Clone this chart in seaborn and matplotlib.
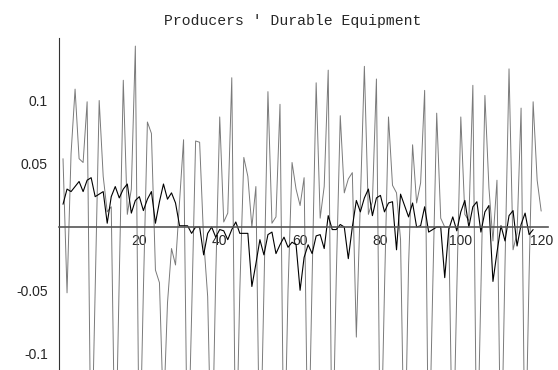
import numpy as np
import pandas as pd
import matplotlib
matplotlib.use("Agg")
import matplotlib.pyplot as plt
from matplotlib.ticker import FixedLocator, MultipleLocator, FixedFormatter
import seaborn as sns

# Monthly growth rates: raw series (gray) and adjusted series (black)
gray_values = [
    0.054, -0.052, 0.058, 0.109, 0.054, 0.051, 0.099, -0.20, -0.05, 0.100,
    0.040, 0.012, 0.016, -0.20, -0.04, 0.116, 0.010, 0.030, 0.143, -0.20,
    -0.05, 0.083, 0.074, -0.034, -0.044, -0.15, -0.060, -0.017, -0.030, 0.020,
    0.069, -0.20, -0.07, 0.068, 0.067, -0.010, -0.055, -0.20, -0.04, 0.087,
    0.004, 0.011, 0.118, -0.20, -0.05, 0.055, 0.040, 0.000, 0.032, -0.20,
    -0.05, 0.107, 0.003, 0.008, 0.097, -0.20, -0.05, 0.051, 0.030, 0.017,
    0.039, -0.20, -0.04, 0.114, 0.007, 0.032, 0.124, -0.20, -0.04, 0.088,
    0.027, 0.038, 0.043, -0.087, 0.020, 0.127, 0.010, 0.020, 0.117, -0.20,
    -0.05, 0.087, 0.033, 0.027, -0.010, -0.20, -0.03, 0.065, 0.019, 0.035,
    0.108, -0.20, -0.05, 0.090, 0.007, 0.000, 0.000, -0.20, -0.05, 0.087,
    0.010, 0.005, 0.112, -0.20, -0.05, 0.104, 0.031, -0.011, 0.037, -0.20,
    -0.03, 0.125, -0.018, -0.005, 0.094, -0.20, -0.037, 0.099, 0.037, 0.0126,
]

black_values = [
    0.018, 0.030, 0.028, 0.032, 0.036, 0.028, 0.037, 0.039, 0.024, 0.026,
    0.028, 0.003, 0.024, 0.032, 0.023, 0.030, 0.034, 0.011, 0.021, 0.024,
    0.013, 0.022, 0.028, 0.003, 0.020, 0.034, 0.022, 0.027, 0.019, 0.001,
    0.001, 0.001, -0.005, 0.000, 0.000, -0.022, -0.005, 0.000, -0.008, -0.002,
    -0.003, -0.010, -0.002, 0.004, -0.005, -0.005, -0.005, -0.047, -0.029, -0.010,
    -0.022, -0.006, -0.004, -0.021, -0.014, -0.008, -0.016, -0.012, -0.014, -0.050,
    -0.024, -0.014, -0.021, -0.007, -0.006, -0.017, 0.009, -0.002, -0.002, 0.002,
    0.000, -0.025, 0.000, 0.021, 0.012, 0.023, 0.030, 0.009, 0.023, 0.025,
    0.012, 0.019, 0.020, -0.018, 0.026, 0.017, 0.008, 0.019, 0.000, 0.001,
    0.016, -0.004, -0.002, 0.000, 0.000, -0.040, -0.002, 0.008, -0.003, 0.012,
    0.021, 0.000, 0.016, 0.020, -0.004, 0.012, 0.017, -0.043, -0.020, 0.001,
    -0.011, 0.009, 0.013, -0.015, 0.002, 0.011, -0.006, -0.002,
]

x_ticks = [20, 40, 60, 80, 100, 120]
y_ticks = [-0.1, -0.05, 0.05, 0.1]
y_tick_labels = ["-0.1", "-0.05", "0.05", "0.1"]

sns.set_style("white")
plt.rcParams["font.family"] = ["Liberation Sans", "DejaVu Sans"]
plt.rcParams["axes.unicode_minus"] = False

fig = plt.figure(figsize=(5.58, 3.70), dpi=100)
ax = fig.add_axes([59 / 558, 0.0, (548 - 59) / 558, (370 - 38) / 370])

gray_df = pd.DataFrame({"t": np.arange(1, len(gray_values) + 1), "v": gray_values})
black_df = pd.DataFrame({"t": np.arange(1, len(black_values) + 1), "v": black_values})

sns.lineplot(data=gray_df, x="t", y="v", color="#7a7a7a", linewidth=0.7, ax=ax)
sns.lineplot(data=black_df, x="t", y="v", color="black", linewidth=0.8, ax=ax)

ax.set_xlim(0, 121.7)
ax.set_ylim(-0.113, 0.1494)
ax.set_xlabel("")
ax.set_ylabel("")

for side in ("top", "right"):
    ax.spines[side].set_visible(False)
ax.spines["left"].set_position(("data", 0))
ax.spines["bottom"].set_position(("data", 0))
ax.spines["left"].set_color("#333333")
ax.spines["bottom"].set_color("#555555")
ax.spines["left"].set_linewidth(0.8)
ax.spines["bottom"].set_linewidth(1.2)

ax.xaxis.set_major_locator(FixedLocator(x_ticks))
ax.xaxis.set_minor_locator(MultipleLocator(5))
ax.yaxis.set_major_locator(FixedLocator(y_ticks))
ax.yaxis.set_major_formatter(FixedFormatter(y_tick_labels))
ax.yaxis.set_minor_locator(MultipleLocator(0.01))

ax.tick_params(axis="both", which="both", direction="in", color="#333333", width=0.7)
ax.tick_params(axis="both", which="major", length=6, labelsize=10)
ax.tick_params(axis="both", which="minor", length=3.5)
ax.tick_params(axis="x", which="major", pad=5)
ax.tick_params(axis="y", which="major", pad=8)

fig.text(293 / 558, 1 - 24.5 / 370, "Producers ' Durable Equipment",
         family="Liberation Mono", fontsize=10.6, ha="center", va="baseline")

fig.savefig("out.png", dpi=100)
